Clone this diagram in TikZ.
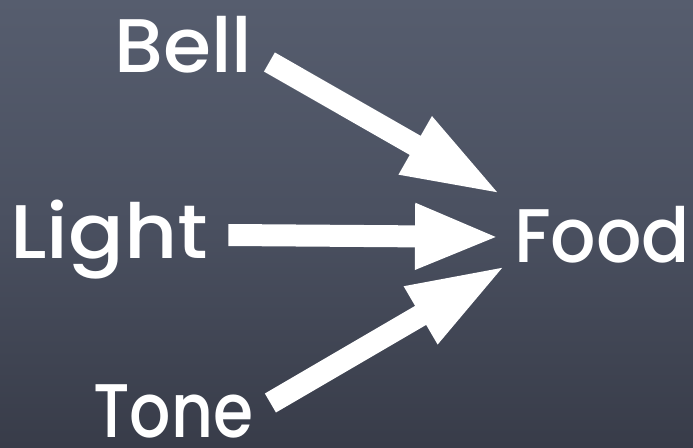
\documentclass[tikz,border=0pt]{standalone}
\usepackage{fontspec}
\setmainfont{Poppins}[UprightFont=*-Medium]
\usetikzlibrary{arrows.meta}
\definecolor{slatetop}{RGB}{86,93,110}
\definecolor{slatebot}{RGB}{56,60,73}
\definecolor{slatemid}{RGB}{74,80,96}
\newcommand{\wordw}[2]{\resizebox{#1}{\height}{#2}}
\begin{document}
\begin{tikzpicture}[x=1pt,y=-1pt,
  word/.style={text=white,font=\fontsize{76}{80}\selectfont,inner sep=0pt,anchor=base west},
  bigarrow/.style={draw=white,line width=22pt,-{Triangle[length=#1,width=60pt]}},
  bigarrow/.default=100pt]
\useasboundingbox (0,0) rectangle (693,447);
\shade[top color=slatetop,bottom color=slatebot,middle color=slatemid] (0,0) rectangle (693,447);
\node[word] (bell) at (114,72) {\wordw{138pt}{Bell}};
\node[word] (light) at (10,258) {\wordw{198pt}{Light}};
\node[word] (tone) at (93,437) {\wordw{160pt}{Tone}};
\node[word] (food) at (514,262) {\wordw{176pt}{Food}};
\coordinate (tipb) at (502,195);
\coordinate (tipl) at (500,237);
\coordinate (tipt) at (507,265);
\draw[bigarrow] ([shift={(17,-10)}]bell.base east) -- (tipb);
\draw[bigarrow=85pt] ([shift={(20,-23)}]light.base east) -- (tipl);
\draw[bigarrow] ([shift={(17,-34)}]tone.base east) -- (tipt);
\end{tikzpicture}
\end{document}
